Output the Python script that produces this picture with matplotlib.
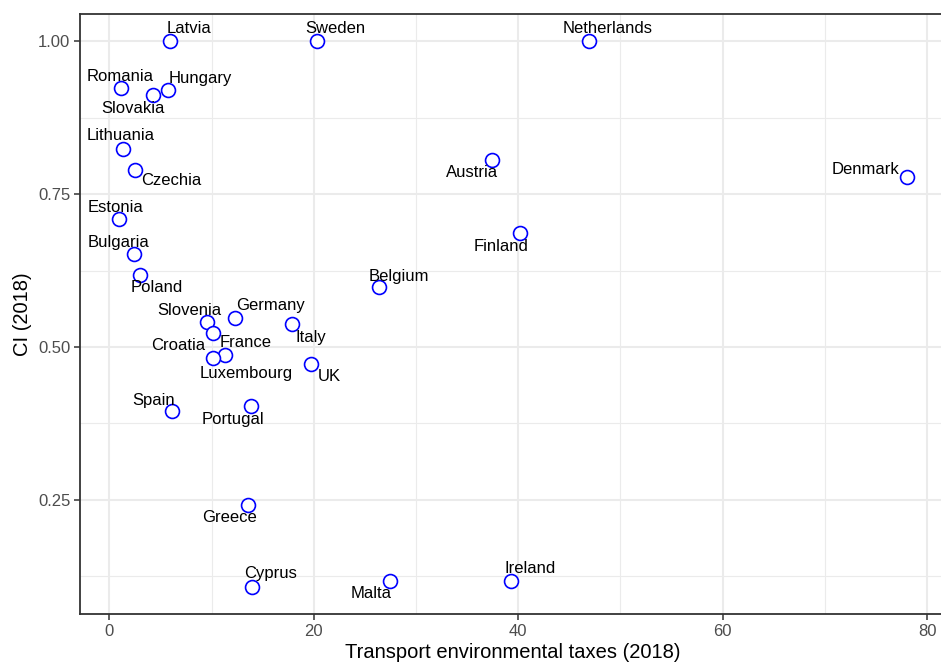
import matplotlib
matplotlib.use("Agg")
import matplotlib.pyplot as plt
from matplotlib.ticker import MultipleLocator, FormatStrFormatter

plt.rcParams["font.family"] = ["Liberation Sans", "DejaVu Sans"]

countries = ["Latvia", "Sweden", "Netherlands", "Romania", "Hungary", "Slovakia",
             "Lithuania", "Czechia", "Austria", "Denmark", "Estonia", "Finland",
             "Bulgaria", "Poland", "Belgium", "Slovenia", "Germany", "Italy",
             "Croatia", "France", "Luxembourg", "UK", "Spain", "Portugal",
             "Greece", "Cyprus", "Malta", "Ireland"]
transport_taxes = [5.96, 20.3, 46.9, 1.1, 5.7, 4.27,
                   1.34, 2.48, 37.4, 78.0, 0.98, 40.2,
                   2.44, 3.0, 26.4, 9.58, 12.3, 17.9,
                   10.1, 11.3, 10.1, 19.7, 6.1, 13.9,
                   13.6, 14.0, 27.45, 39.25]
ci_2018 = [1.0, 1.0, 1.0, 0.923, 0.921, 0.913,
           0.824, 0.790, 0.806, 0.778, 0.709, 0.687,
           0.652, 0.618, 0.598, 0.541, 0.548, 0.537,
           0.523, 0.487, 0.482, 0.473, 0.395, 0.403,
           0.242, 0.108, 0.118, 0.117]

# label offsets from each point, in pixels (x right, y up)
label_offsets = {
    "Latvia": (19, 13), "Sweden": (19, 13), "Netherlands": (19, 13),
    "Romania": (0, 12), "Hungary": (33, 11), "Slovakia": (-20, -14),
    "Lithuania": (-2, 13), "Czechia": (37, -11), "Austria": (-20, -13),
    "Denmark": (-41, 8), "Estonia": (-4, 12), "Finland": (-19, -14),
    "Bulgaria": (-16, 12), "Poland": (17, -13), "Belgium": (20, 11),
    "Slovenia": (-18, 11), "Germany": (35, 12), "Italy": (19, -13),
    "Croatia": (-34, -13), "France": (21, 12), "Luxembourg": (34, -15),
    "UK": (19, -13), "Spain": (-18, 11), "Portugal": (-18, -13),
    "Greece": (-19, -13), "Cyprus": (18, 13), "Malta": (-19, -13),
    "Ireland": (20, 13),
}

fig = plt.figure(figsize=(9.41, 6.62), dpi=100)
ax = fig.add_axes([0.0850, 0.0725, 0.9203, 0.9063])

ax.scatter(transport_taxes, ci_2018, s=100, facecolors="white",
           edgecolors="#0000FF", linewidths=1.2, zorder=3)

for name, x, y in zip(countries, transport_taxes, ci_2018):
    dx, dy = label_offsets[name]
    ax.annotate(name, (x, y), xytext=(dx, dy), textcoords="offset pixels",
                ha="center", va="center", fontsize=12, color="black", zorder=4)

xr = max(transport_taxes) - min(transport_taxes)
yr = max(ci_2018) - min(ci_2018)
ax.set_xlim(min(transport_taxes) - 0.05 * xr, max(transport_taxes) + 0.05 * xr)
ax.set_ylim(min(ci_2018) - 0.05 * yr, max(ci_2018) + 0.05 * yr)

ax.xaxis.set_major_locator(MultipleLocator(20))
ax.xaxis.set_minor_locator(MultipleLocator(10))
ax.yaxis.set_major_locator(MultipleLocator(0.25))
ax.yaxis.set_minor_locator(MultipleLocator(0.125))
ax.yaxis.set_major_formatter(FormatStrFormatter("%.2f"))

ax.grid(which="major", color="#EBEBEB", linewidth=1.5, zorder=0)
ax.grid(which="minor", color="#EBEBEB", linewidth=0.8, zorder=0)
ax.set_axisbelow(True)

for sp in ax.spines.values():
    sp.set_color("#333333")
    sp.set_linewidth(1.3)
ax.spines["right"].set_visible(False)

ax.tick_params(which="major", length=4, width=1.1, color="#333333",
               labelsize=12, labelcolor="#4D4D4D", pad=3)
ax.tick_params(which="minor", length=0)

ax.set_xlabel("Transport environmental taxes (2018)", fontsize=14.5, labelpad=3)
ax.set_ylabel("CI (2018)", fontsize=14.5, labelpad=4)

fig.savefig("out.png", dpi=100)
